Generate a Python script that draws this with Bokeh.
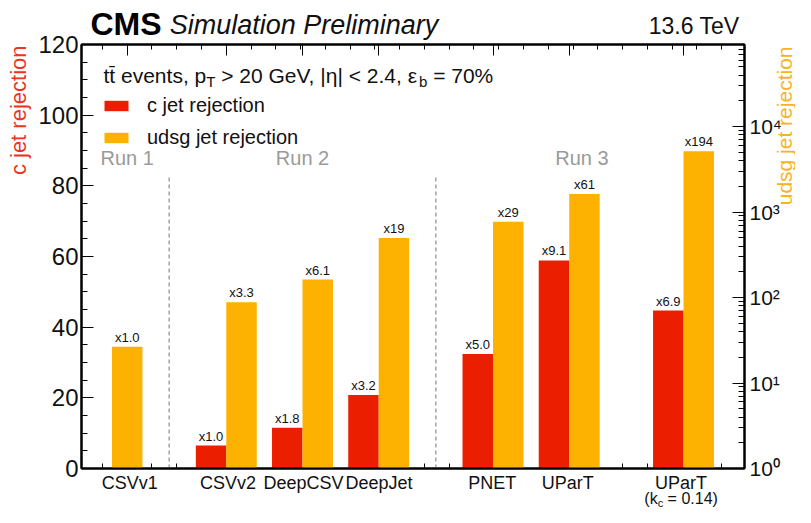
import numpy as np
from bokeh.plotting import figure
from bokeh.layouts import column, row
from bokeh.models import (Range1d, LogScale, LinearAxis, LogAxis, FixedTicker,
                          Label, Legend, LegendItem)
from bokeh.core.properties import value
from bokeh.embed import file_html
from bokeh.resources import INLINE

# ---------------- data ----------------
taggers = ["CSVv1", "CSVv2", "DeepCSV", "DeepJet", "PNET", "UParT", "UParT"]
variants = [None, None, None, None, None, None, "kc"]
runs = ["Run 1", "Run 2", "Run 2", "Run 2", "Run 3", "Run 3", "Run 3"]
c_rejection = [None, 6.5, 11.5, 20.8, 32.4, 58.9, 44.7]
udsg_rejection = [26.5, 88, 162, 497, 770, 1630, 5150]
c_gain_labels = [None, "x1.0", "x1.8", "x3.2", "x5.0", "x9.1", "x6.9"]
udsg_gain_labels = ["x1.0", "x3.3", "x6.1", "x19", "x29", "x61", "x194"]
left_ticks = [0, 20, 40, 60, 80, 100, 120]
left_tick_labels = ["0", "20", "40", "60", "80", "100", "120"]
right_ticks = [1, 10, 100, 1000, 10000]
right_tick_labels = ["10⁰", "10¹", "10²", "10³", "10⁴"]

# ---------------- style / layout ----------------
RED = "#ec1e00"
ORANGE = "#fdb100"
RED_TXT = "#e8361f"
ORANGE_TXT = "#f7b324"
GRAY = "#9a9a9a"
INK = "#111111"
FONT = "Liberation Sans"
NB = "\u00a0"

TOTAL_W, TOTAL_H = 795, 507
LS_W = 78                       # left strip: title + left tick labels
HEAD_H, FOOT_H = 41, 36
ML = MR = MT = MB = 3
FRAME_L, FRAME_R = 81, 744
FRAME_T, FRAME_B = HEAD_H + MT, TOTAL_H - FOOT_H - MB
MW = FRAME_R - FRAME_L + ML + MR
MH = FRAME_B - FRAME_T + MT + MB
RS_W = TOTAL_W - LS_W - MW      # right strip: right tick labels + title
FRAME_W = FRAME_R - FRAME_L
FRAME_H = FRAME_B - FRAME_T
TOP_PAD, BOT_PAD = FRAME_T, TOTAL_H - FRAME_B
X0, X1 = 0.1, 8.8
Y0, Y1 = 0, 120
LOG_SPAN = 4.96
L0, L1 = 1, 10 ** LOG_SPAN
PPU = FRAME_W / (X1 - X0)
BAR_W = 0.4
DASH_TOP = 83
RUN_Y = 88

AW = {' ': 278, NB: 278, ',': 278, '.': 278, '%': 889, '|': 260, '<': 584, '>': 584,
      '=': 584, '(': 333, ')': 333, 'η': 556, 'ε': 446, '\u0304': 0}
for ch in "0123456789":
    AW[ch] = 556
AW.update(dict(zip("abcdefghijklmnopqrstuvwxyz",
                   [556, 556, 500, 556, 556, 278, 556, 556, 222, 222, 500, 222, 833,
                    556, 556, 556, 556, 333, 500, 278, 556, 500, 722, 500, 500, 500])))
AW.update(dict(zip("ABCDEFGHIJKLMNOPQRSTUVWXYZ",
                   [667, 667, 722, 722, 667, 611, 778, 722, 278, 500, 667, 556, 833,
                    722, 778, 667, 778, 722, 667, 611, 722, 667, 944, 667, 667, 611])))


def tw(s, size):
    return sum(AW.get(ch, 556) for ch in s) / 1000.0 * size


def bare(width, height, x_range, y_range, **kw):
    f = figure(width=width, height=height, x_range=x_range, y_range=y_range,
               output_backend="svg", toolbar_location=None, x_axis_location=None,
               y_axis_location=None, min_border=0, title=None, **kw)
    f.grid.visible = False
    f.outline_line_color = None
    f.background_fill_color = "white"
    f.border_fill_color = "white"
    return f


# positions of the tagger slots (1 unit apart, 1.5 before a new era / variant)
pos = []
cur = 0.5
for i in range(len(taggers)):
    if i > 0:
        cur += 1.5 if (runs[i] != runs[i - 1] or variants[i]) else 1.0
    pos.append(cur)
pos = np.array(pos)
label_pos = [float(x if c is not None else x + BAR_W / 2) for x, c in zip(pos, c_rejection)]

# ---------------- main figure ----------------
p = figure(width=MW, height=MH, x_range=Range1d(X0, X1), y_range=Range1d(Y0, Y1),
           output_backend="svg", toolbar_location=None, title=None,
           min_border_left=ML, min_border_right=MR, min_border_top=MT,
           min_border_bottom=MB)
p.extra_y_ranges = {"log": Range1d(L0, L1)}
p.extra_y_scales = {"log": LogScale()}
p.xgrid.visible = False
p.ygrid.visible = False
p.outline_line_color = "black"
p.outline_line_width = 2
p.background_fill_color = "white"
p.border_fill_color = "white"

ci = [i for i, v in enumerate(c_rejection) if v is not None]
c_x = [float(pos[i] - BAR_W / 2) for i in ci]
c_v = [c_rejection[i] for i in ci]
u_x = [float(x + BAR_W / 2) for x in pos]

cbar = p.vbar(x=c_x, top=c_v, bottom=0, width=BAR_W, fill_color=RED, line_color=None)
ubar = p.vbar(x=u_x, top=udsg_rejection, bottom=1, width=BAR_W, fill_color=ORANGE,
              line_color=None, y_range_name="log")

p.text(x=c_x, y=c_v, text=[c_gain_labels[i] for i in ci], y_offset=-2,
       text_align="center", text_baseline="bottom", text_font=value(FONT),
       text_font_size="13px", text_color=INK)
p.text(x=u_x, y=udsg_rejection, text=udsg_gain_labels, y_offset=-2,
       text_align="center", text_baseline="bottom", text_font=value(FONT),
       text_font_size="13px", text_color=INK, y_range_name="log")

eras = list(dict.fromkeys(runs))
sep_x, run_x = [], []
for k, era in enumerate(eras):
    idx = [i for i, r in enumerate(runs) if r == era]
    run_x.append(float(np.mean([label_pos[i] for i in idx])))
    if k < len(eras) - 1:
        nxt = runs.index(eras[k + 1])
        sep_x.append(float((pos[idx[-1]] + pos[nxt]) / 2))
p.segment(x0=sep_x, y0=0, x1=sep_x, y1=DASH_TOP, line_color="#8c8c8c",
          line_width=1.2, line_dash="4 3")
p.text(x=run_x, y=RUN_Y, text=eras, text_align="center", text_baseline="middle",
       text_font=value(FONT), text_font_size="20px", text_color=GRAY)

# axes (tick marks here; their numbers live in the side strips)
grid = 0.7 + 0.325 * np.arange(-1, 27)
grid = [float(g) for g in grid if X0 < g < X1]
bars_ext = [(x - BAR_W / 2, x + BAR_W / 2) for x in c_x + u_x]
bottom_minor = [g for g in grid if not any(a - 0.01 <= g <= b + 0.01 for a, b in bars_ext)]


def quiet(ax):
    ax.major_label_text_font_size = "2px"
    ax.major_label_standoff = 0
    ax.major_tick_out = 0
    ax.minor_tick_out = 0
    ax.axis_line_width = 2


xa = p.xaxis[0]
xa.ticker = FixedTicker(ticks=label_pos, minor_ticks=bottom_minor)
xa.major_label_overrides = {lp: "" for lp in label_pos}
quiet(xa)
xa.major_tick_in = 0
xa.minor_tick_in = 5

top = LinearAxis(ticker=FixedTicker(ticks=label_pos, minor_ticks=grid),
                 major_tick_in=11, minor_tick_in=5,
                 major_label_overrides={lp: "" for lp in label_pos})
quiet(top)
p.add_layout(top, "above")

ya = p.yaxis[0]
ya.ticker = FixedTicker(ticks=left_ticks,
                        minor_ticks=[float(v) for v in np.arange(Y0, Y1 + 1, 5)])
ya.major_label_overrides = {t: "" for t in left_ticks}
quiet(ya)
ya.major_tick_in = 12
ya.minor_tick_in = 6

minors = [float(m * 10 ** d) for d in range(0, 5) for m in range(2, 10) if m * 10 ** d < L1]
ra = LogAxis(y_range_name="log", ticker=FixedTicker(ticks=right_ticks, minor_ticks=minors),
             major_label_overrides={t: "" for t in right_ticks},
             major_tick_in=12, minor_tick_in=6)
quiet(ra)
p.add_layout(ra, "right")

legend = Legend(items=[LegendItem(label="c jet rejection", renderers=[cbar]),
                       LegendItem(label="udsg jet rejection", renderers=[ubar])],
                location=(20, FRAME_B - 149), orientation="vertical",
                glyph_width=30, glyph_height=13, label_height=22, spacing=9,
                padding=0, margin=0, label_standoff=16,
                label_text_font=FONT, label_text_font_size="20px",
                label_text_color=INK, border_line_color=None,
                background_fill_alpha=0)
p.add_layout(legend, "center")

# selection line inside the frame (screen units relative to the frame)
hx = 103 - FRAME_L
for t, s, drop in [("tt\u0304 events, p", 21, 0), ("T", 15, 6),
                   (NB + "> 20 GeV, |η| < 2.4, ε", 21, 0), ("b", 15, 6),
                   (NB + "= 70%", 21, 0)]:
    p.add_layout(Label(x=hx, y=FRAME_B - (75 + drop), x_units="screen", y_units="screen",
                       text=t, text_font=FONT, text_font_size=f"{s}px", text_color=INK,
                       text_baseline="middle"))
    hx += tw(t, s)

# ---------------- left strip: title + linear tick labels ----------------
ly = (Y1 - Y0) / FRAME_H
left = bare(LS_W, TOTAL_H, Range1d(0, LS_W),
            Range1d(Y0 - BOT_PAD * ly, Y1 + TOP_PAD * ly))
left.text(x=[FRAME_L - 3] * len(left_ticks), y=left_ticks, text=left_tick_labels,
          text_align="right", text_baseline="middle", text_font=value(FONT),
          text_font_size="24px", text_color=INK)
left.text(x=[18], y=[Y1 - 1 * ly], text=["c jet rejection"], angle=np.pi / 2,
          text_align="right", text_baseline="middle", text_font=value(FONT),
          text_font_size="22px", text_color=RED_TXT)

# ---------------- right strip: log tick labels + title ----------------
lg = LOG_SPAN / FRAME_H
right = bare(RS_W, TOTAL_H, Range1d(TOTAL_W - RS_W, TOTAL_W),
             Range1d(10 ** (-BOT_PAD * lg), 10 ** (LOG_SPAN + TOP_PAD * lg)),
             y_axis_type="log")
right.text(x=[FRAME_R + 5] * len(right_ticks), y=right_ticks, text=right_tick_labels,
           text_align="left", text_baseline="middle", text_font=value(FONT),
           text_font_size="21px", text_color=INK)
right.text(x=[TOTAL_W - 11], y=[10 ** (LOG_SPAN - 2 * lg)], text=["udsg jet rejection"],
           angle=np.pi / 2, text_align="right", text_baseline="middle",
           text_font=value(FONT), text_font_size="21px", text_color=ORANGE_TXT)

# ---------------- header ----------------
head = bare(MW, HEAD_H, Range1d(LS_W, LS_W + MW), Range1d(HEAD_H, 0))
head.text(x=[87], y=[23.5], text=["CMS"], text_font=value(FONT), text_font_size="32px",
          text_font_style="bold", text_color="black", text_baseline="middle")
head.text(x=[167], y=[24.5], text=["Simulation Preliminary"], text_font=value(FONT),
          text_font_size="27px", text_font_style="italic", text_color=INK,
          text_baseline="middle")
head.text(x=[FRAME_R - 2], y=[25], text=["13.6 TeV"], text_font=value(FONT),
          text_font_size="23px", text_color=INK, text_baseline="middle",
          text_align="right")

# ---------------- footer: category names ----------------
foot = bare(MW, FOOT_H,
            Range1d(X0 - (FRAME_L - LS_W) / PPU, X0 + (LS_W + MW - FRAME_L) / PPU),
            Range1d(FOOT_H, 0))
foot.text(x=label_pos, y=[11] * len(label_pos), text=taggers, text_align="center",
          text_baseline="middle", text_font=value(FONT), text_font_size="18px",
          text_color=INK)

kc_i = variants.index("kc")
kc_parts = [("(k", 16, 0), ("c", 11, 4), (NB + "=" + NB + "0.14)", 16, 0)]
off = -sum(tw(t, s) for t, s, _ in kc_parts) / 2
for t, s, drop in kc_parts:
    foot.text(x=[label_pos[kc_i]], y=[27 + drop], x_offset=off, text=[t],
              text_baseline="middle", text_font=value(FONT),
              text_font_size=f"{s}px", text_color=INK)
    off += tw(t, s)

layout = row(left, column(head, p, foot), right)
open("out.html", "w").write(file_html(layout, INLINE))
